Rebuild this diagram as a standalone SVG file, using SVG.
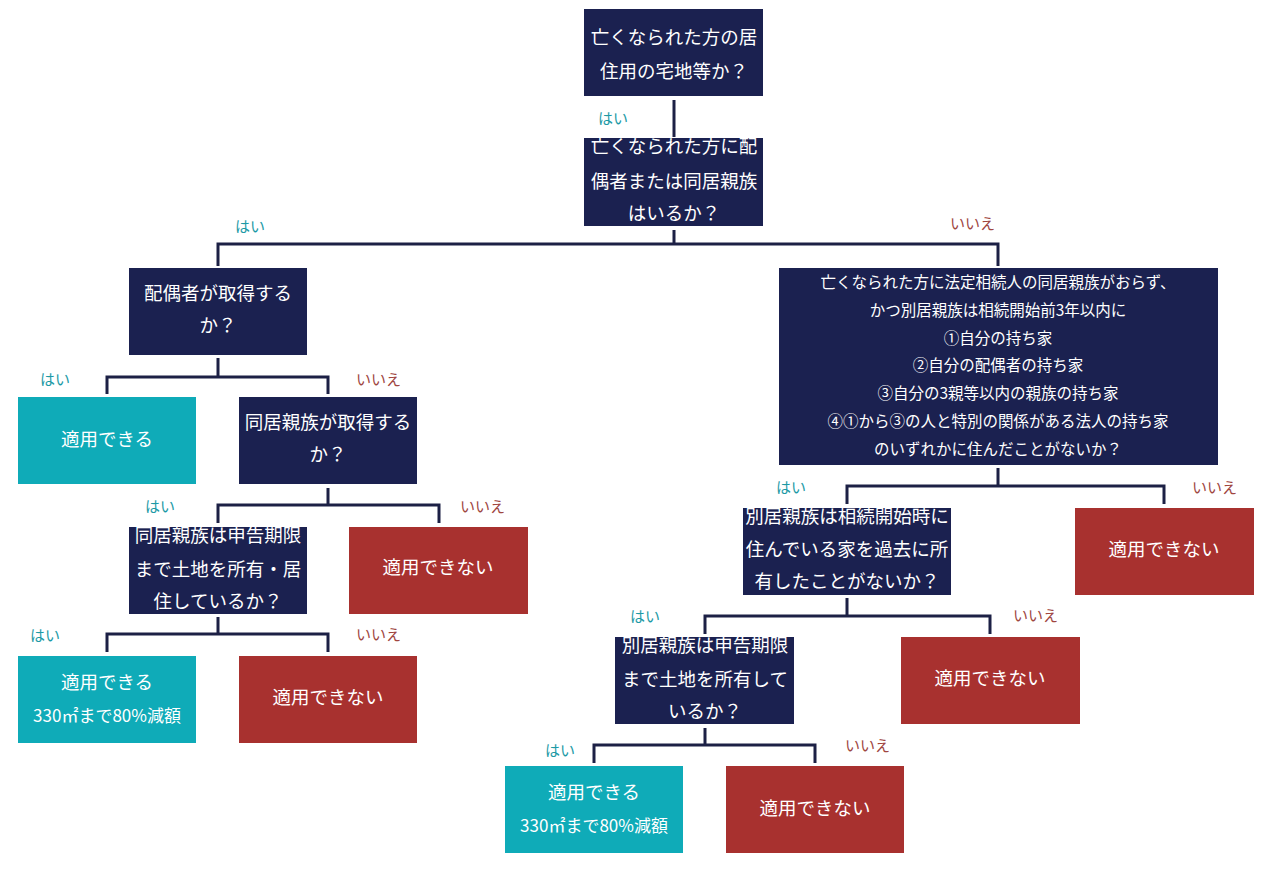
<svg xmlns="http://www.w3.org/2000/svg" width="1280" height="869" viewBox="0 0 1280 869">
<style>
.q{fill:#1b2150}
.ok{fill:#0fabb8}
.ng{fill:#a8312f}
.t{fill:#fff;font-family:"Noto Sans CJK JP","Noto Sans",sans-serif;font-size:18.5px;text-anchor:middle;dominant-baseline:central}
.s{font-size:15.5px}
.m{font-size:17px}
.y{fill:#1d9aa6;font-family:"Noto Sans CJK JP",sans-serif;font-size:15px;dominant-baseline:central}
.n{fill:#a0463f;font-family:"Noto Sans CJK JP",sans-serif;font-size:15px;dominant-baseline:central}
.c{fill:none;stroke:#1c2045;stroke-width:3}
</style>
<defs>
<clipPath id="c2"><rect x="584" y="138" width="179" height="88"/></clipPath>
<clipPath id="c6"><rect x="129" y="527" width="178" height="87"/></clipPath>
<clipPath id="c10"><rect x="743" y="508" width="208" height="87"/></clipPath>
<clipPath id="c12"><rect x="615" y="637" width="179" height="87"/></clipPath>
</defs>
<rect width="1280" height="869" fill="#fff"/>
<g id="connectors">
<path class="c" d="M674 100V137"/>
<path class="c" d="M674 230V244M218 266V244H998V266"/>
<path class="c" d="M218 358V377M107 394V377H328V394"/>
<path class="c" d="M328 488V505M218 523V505H439V523"/>
<path class="c" d="M218 617V634M107 652V634H328V652"/>
<path class="c" d="M998 468V486M847 504V486H1164V504"/>
<path class="c" d="M847 598V616M705 634V616H990V634"/>
<path class="c" d="M705 728V745M594 763V745H815V763"/>
</g>
<g id="labels">
<text class="y" x="598" y="117">はい</text>
<text class="y" x="235" y="225">はい</text>
<text class="n" x="950" y="222">いいえ</text>
<text class="y" x="40" y="378">はい</text>
<text class="n" x="356" y="378">いいえ</text>
<text class="y" x="145" y="505">はい</text>
<text class="n" x="460" y="505">いいえ</text>
<text class="y" x="30" y="634">はい</text>
<text class="n" x="356" y="633">いいえ</text>
<text class="y" x="776" y="486">はい</text>
<text class="n" x="1192" y="486">いいえ</text>
<text class="y" x="630" y="615">はい</text>
<text class="n" x="1013" y="614">いいえ</text>
<text class="y" x="545" y="749">はい</text>
<text class="n" x="845" y="744">いいえ</text>
</g>
<g id="n1"><rect class="q" x="584" y="9" width="179" height="87"/><text class="t" x="674" y="36">亡くなられた方の居</text><text class="t" x="674" y="70">住用の宅地等か？</text></g>
<g id="n2"><rect class="q" x="584" y="138" width="179" height="88"/><g clip-path="url(#c2)"><text class="t" x="674" y="145">亡くなられた方に配</text></g><text class="t" x="674" y="180">偶者または同居親族</text><text class="t" x="674" y="212">はいるか？</text></g>
<g id="n3"><rect class="q" x="129" y="268" width="178" height="87"/><text class="t" x="218" y="292">配偶者が取得する</text><text class="t" x="218" y="324">か？</text></g>
<g id="n4"><rect class="ok" x="18" y="397" width="178" height="87"/><text class="t" x="107" y="438">適用できる</text></g>
<g id="n5"><rect class="q" x="239" y="397" width="178" height="87"/><text class="t" x="328" y="421">同居親族が取得する</text><text class="t" x="328" y="453">か？</text></g>
<g id="n6"><rect class="q" x="129" y="527" width="178" height="87"/><g clip-path="url(#c6)"><text class="t" x="218" y="534">同居親族は申告期限</text></g><text class="t" x="218" y="568">まで土地を所有・居</text><text class="t" x="218" y="600">住しているか？</text></g>
<g id="n7"><rect class="ng" x="349" y="527" width="179" height="87"/><text class="t" x="438" y="566">適用できない</text></g>
<g id="n8"><rect class="ok" x="18" y="656" width="178" height="87"/><text class="t" x="107" y="681">適用できる</text><text class="t m" x="107" y="714">330㎡まで80%減額</text></g>
<g id="n9"><rect class="ng" x="239" y="656" width="178" height="87"/><text class="t" x="328" y="696">適用できない</text></g>
<g id="n10"><rect class="q" x="779" y="268" width="439" height="197"/>
<text class="t s" x="998" y="281">亡くなられた方に法定相続人の同居親族がおらず、</text>
<text class="t s" x="998" y="309">かつ別居親族は相続開始前3年以内に</text>
<text class="t s" x="998" y="337">①自分の持ち家</text>
<text class="t s" x="998" y="364">②自分の配偶者の持ち家</text>
<text class="t s" x="998" y="392">③自分の3親等以内の親族の持ち家</text>
<text class="t s" x="998" y="420">④①から③の人と特別の関係がある法人の持ち家</text>
<text class="t s" x="998" y="448">のいずれかに住んだことがないか？</text></g>
<g id="n11"><rect class="q" x="743" y="508" width="208" height="87"/><g clip-path="url(#c10)"><text class="t" x="847" y="515">別居親族は相続開始時に</text></g><text class="t" x="847" y="548">住んでいる家を過去に所</text><text class="t" x="847" y="580">有したことがないか？</text></g>
<g id="n12"><rect class="ng" x="1075" y="508" width="179" height="87"/><text class="t" x="1164" y="548">適用できない</text></g>
<g id="n13"><rect class="q" x="615" y="637" width="179" height="87"/><g clip-path="url(#c12)"><text class="t" x="705" y="644">別居親族は申告期限</text></g><text class="t" x="705" y="678">まで土地を所有して</text><text class="t" x="705" y="710">いるか？</text></g>
<g id="n14"><rect class="ng" x="901" y="637" width="179" height="87"/><text class="t" x="990" y="677">適用できない</text></g>
<g id="n15"><rect class="ok" x="505" y="766" width="178" height="87"/><text class="t" x="594" y="791">適用できる</text><text class="t m" x="594" y="824">330㎡まで80%減額</text></g>
<g id="n16"><rect class="ng" x="726" y="766" width="178" height="87"/><text class="t" x="815" y="807">適用できない</text></g>
</svg>
